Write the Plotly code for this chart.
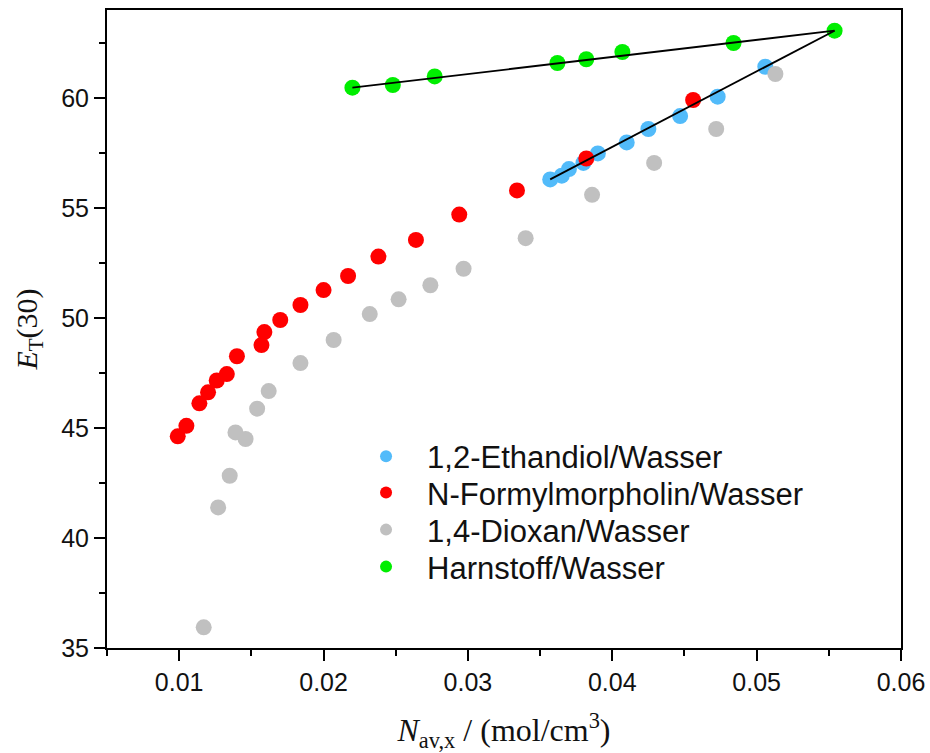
import plotly.graph_objects as go

# --- data ---
eth_x = [0.0357, 0.0365, 0.0370, 0.0380, 0.0390, 0.0410, 0.0425, 0.0447, 0.0473, 0.0506]
eth_y = [56.30, 56.47, 56.77, 57.05, 57.48, 57.98, 58.59, 59.18, 60.06, 61.42]

nfm_x = [0.0099, 0.0105, 0.0114, 0.0120, 0.0126, 0.0133, 0.0140, 0.0157, 0.0159,
         0.0170, 0.0184, 0.0200, 0.0217, 0.0238, 0.0264, 0.0294, 0.0334, 0.0382, 0.0456]
nfm_y = [44.62, 45.10, 46.12, 46.62, 47.16, 47.45, 48.26, 48.77, 49.36,
         49.91, 50.59, 51.27, 51.91, 52.79, 53.55, 54.70, 55.80, 57.25, 59.91]

dio_x = [0.0117, 0.0127, 0.0135, 0.0139, 0.0146, 0.0154, 0.0162, 0.0184, 0.0207,
         0.0232, 0.0252, 0.0274, 0.0297, 0.0340, 0.0386, 0.0429, 0.0472, 0.0513]
dio_y = [35.94, 41.39, 42.83, 44.80, 44.50, 45.88, 46.68, 47.95, 49.00,
         50.18, 50.85, 51.49, 52.24, 53.63, 55.60, 57.05, 58.59, 61.09]

har_x = [0.0220, 0.0248, 0.0277, 0.0362, 0.0382, 0.0407, 0.0484, 0.0554]
har_y = [60.47, 60.59, 60.98, 61.59, 61.76, 62.09, 62.50, 63.06]

names = ["1,2-Ethandiol/Wasser", "N-Formylmorpholin/Wasser", "1,4-Dioxan/Wasser", "Harnstoff/Wasser"]
colors = ["#52BBFA", "#FF0000", "#C0C0C0", "#00EE00"]

x_ticks = [0.01, 0.02, 0.03, 0.04, 0.05, 0.06]
x_ticktext = ["0.01", "0.02", "0.03", "0.04", "0.05", "0.06"]
y_ticks = [35, 40, 45, 50, 55, 60]

legend_ids = ["legend", "legend2", "legend3", "legend4"]
legend_rows = [0.300, 0.243, 0.185, 0.127]  # paper y of each legend row

fig = go.Figure()
for xs, ys, nm, c, lg in zip([eth_x, nfm_x, dio_x, har_x], [eth_y, nfm_y, dio_y, har_y],
                             names, colors, legend_ids):
    fig.add_trace(go.Scatter(x=xs, y=ys, mode="markers", name=nm, legend=lg,
                             marker=dict(size=16, color=c, line=dict(width=0))))

# connecting lines (first green -> last green, first blue -> last green)
fig.add_trace(go.Scatter(x=[har_x[0], har_x[-1]], y=[har_y[0], har_y[-1]], mode="lines",
                         line=dict(color="black", width=1.8), showlegend=False, hoverinfo="skip"))
fig.add_trace(go.Scatter(x=[eth_x[0], har_x[-1]], y=[eth_y[0], har_y[-1]], mode="lines",
                         line=dict(color="black", width=1.8), showlegend=False, hoverinfo="skip"))

axis_common = dict(showline=True, linecolor="black", linewidth=2, mirror=True,
                   ticks="outside", ticklen=11, tickwidth=2, tickcolor="black",
                   showgrid=False, zeroline=False, automargin=False,
                   tickfont=dict(family="Liberation Sans, Arial", size=25, color="#111"))

fig.update_xaxes(range=[0.005, 0.06], tickvals=x_ticks, ticktext=x_ticktext,
                 minor=dict(dtick=0.005, tick0=0, ticks="outside", ticklen=6, tickwidth=2, tickcolor="black"),
                 title=dict(text="<i>N</i><sub>av,x</sub> / (mol/cm<sup>3</sup>)",
                            font=dict(family="Liberation Serif, Times New Roman", size=32, color="#111"),
                            standoff=29),
                 **axis_common)
fig.update_yaxes(range=[35, 64], tickvals=y_ticks,
                 minor=dict(dtick=2.5, tick0=35, ticks="outside", ticklen=6, tickwidth=2, tickcolor="black"),
                 title=dict(text="<i>E</i><sub>T</sub>(30)",
                            font=dict(family="Liberation Serif, Times New Roman", size=30, color="#111"),
                            standoff=15),
                 **axis_common)

legend_style = dict(x=0.2998, xanchor="left", yanchor="middle",
                    bgcolor="rgba(0,0,0,0)", borderwidth=0, itemsizing="constant",
                    itemwidth=72,
                    font=dict(family="Liberation Sans, Arial", size=31, color="#111"))
layout_legends = {lg: dict(y=yy, **legend_style) for lg, yy in zip(legend_ids, legend_rows)}

fig.update_layout(
    width=930, height=753,
    margin=dict(l=107, r=29, t=10, b=105),
    plot_bgcolor="white", paper_bgcolor="white",
    **layout_legends,
)
fig.write_html("out.html")
